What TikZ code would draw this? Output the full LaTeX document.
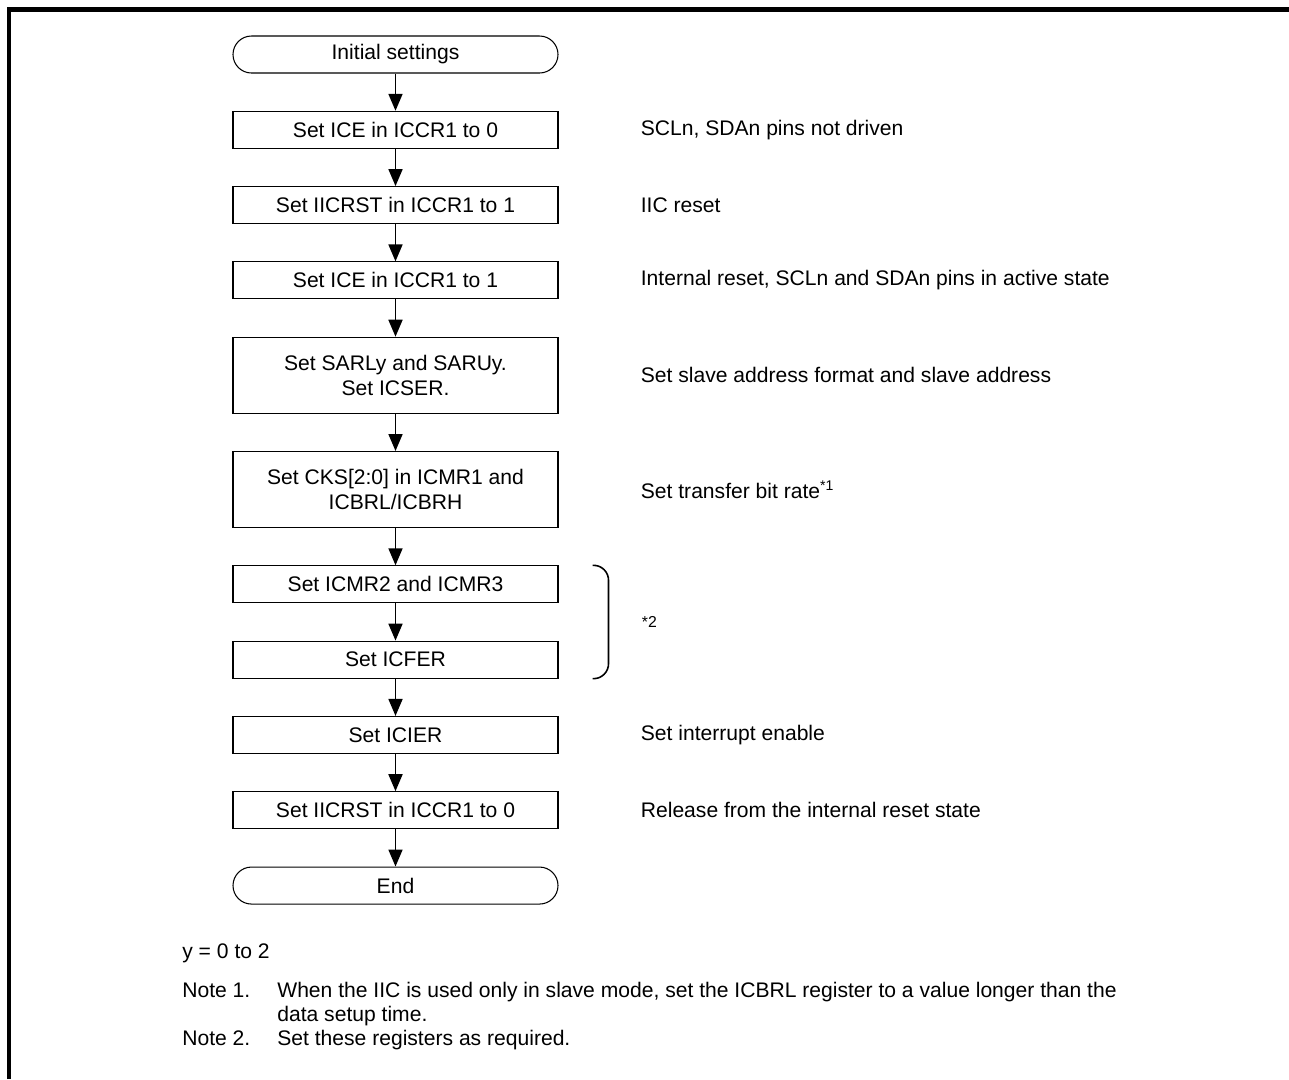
\documentclass[tikz,border=0pt]{standalone}
\usepackage{fontspec}
\setmainfont{Liberation Sans}
\usetikzlibrary{arrows.meta, positioning}

\begin{document}
\begin{tikzpicture}[
  font=\fontsize{12}{14}\selectfont,
  terminal/.style={rectangle, draw, rounded corners=0.37cm, minimum width=6.5cm, minimum height=0.74cm, line width=0.6pt},
  stepbox/.style={rectangle, draw, minimum width=6.5cm, minimum height=0.74cm, align=center, line width=0.6pt},
  tallbox/.style={stepbox, minimum height=1.52cm},
  arr/.style={-{Triangle[length=0.34cm, width=0.28cm]}, line width=1pt},
  remark/.style={inner sep=0pt},
  notetext/.style={anchor=base west, inner sep=0pt},
  node distance=0.745cm]
\useasboundingbox (0,0) rectangle (25.78,-21.58);
\draw[line width=2.3pt] (0.18,-21.58) |- (25.78,-0.19);

% flow
\node[terminal] (start) at (7.91,-1.09) {Initial settings};
\node[stepbox, below=of start] (s1) {Set ICE in ICCR1 to 0};
\node[stepbox, below=of s1] (s2) {Set IICRST in ICCR1 to 1};
\node[stepbox, below=of s2] (s3) {Set ICE in ICCR1 to 1};
\node[tallbox, below=of s3] (s4) {Set SARLy and SARUy.\\Set ICSER.};
\node[tallbox, below=of s4] (s5) {Set CKS[2:0] in ICMR1 and\\ICBRL/ICBRH};
\node[stepbox, below=of s5] (s6) {Set ICMR2 and ICMR3};
\node[stepbox, below=of s6] (s7) {Set ICFER};
\node[stepbox, below=of s7] (s8) {Set ICIER};
\node[stepbox, below=of s8] (s9) {Set IICRST in ICCR1 to 0};
\node[terminal, below=of s9] (stop) {End};

\draw[arr] (start) -- (s1);
\draw[arr] (s1) -- (s2);
\draw[arr] (s2) -- (s3);
\draw[arr] (s3) -- (s4);
\draw[arr] (s4) -- (s5);
\draw[arr] (s5) -- (s6);
\draw[arr] (s6) -- (s7);
\draw[arr] (s7) -- (s8);
\draw[arr] (s8) -- (s9);
\draw[arr] (s9) -- (stop);

% remarks on the right
\node[remark, right=1.64cm of s1] (r1) {SCLn, SDAn pins not driven};
\node[remark, right=1.64cm of s2] (r2) {IIC reset};
\node[remark, right=1.64cm of s3] (r3) {Internal reset, SCLn and SDAn pins in active state};
\node[remark, right=1.64cm of s4] (r4) {Set slave address format and slave address};
\node[remark, right=1.64cm of s5] (r5) {Set transfer bit rate\textsuperscript{*1}};
\node[remark, right=1.64cm of s8] (r8) {Set interrupt enable};
\node[remark, right=1.64cm of s9] (r9) {Release from the internal reset state};

% bracket for note 2
\draw[line width=0.9pt, rounded corners=0.3cm] ([xshift=0.68cm]s6.north east) -| ([xshift=1.0cm]s7.south east) -- ([xshift=0.68cm]s7.south east);
\node[remark, anchor=west, font=\fontsize{9}{10}\selectfont] (r6) at ([xshift=1.66cm, yshift=-0.37cm]s6.south east) {*2};

% notes
\node[notetext] (yrange) at (3.64,-19.17) {y = 0 to 2};
\node[notetext] (n1) at (3.64,-19.94) {Note 1.};
\node[notetext] (n1a) at (5.54,-19.94) {When the IIC is used only in slave mode, set the ICBRL register to a value longer than the};
\node[notetext] (n1b) at (5.54,-20.42) {data setup time.};
\node[notetext] (n2) at (3.64,-20.90) {Note 2.};
\node[notetext] (n2a) at (5.54,-20.90) {Set these registers as required.};
\end{tikzpicture}
\end{document}
